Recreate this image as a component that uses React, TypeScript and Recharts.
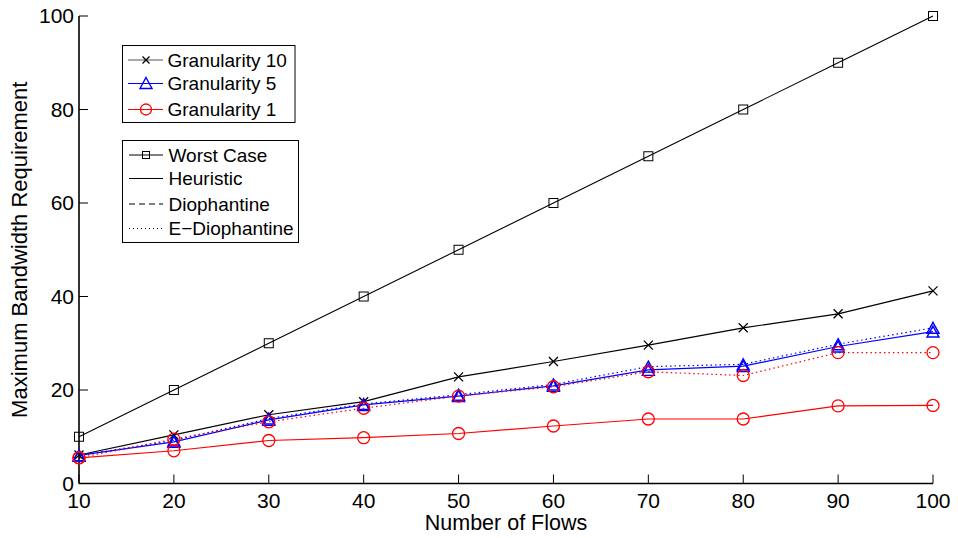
import React from 'react';
import { LineChart, Line, XAxis, YAxis } from 'recharts';

const flows = [10, 20, 30, 40, 50, 60, 70, 80, 90, 100];
const worstCase = [10, 20, 30, 40, 50, 60, 70, 80, 90, 100];
const g10Heuristic = [6.1, 10.4, 14.7, 17.5, 22.8, 26.1, 29.6, 33.3, 36.3, 41.2];
const g5Heuristic = [6.0, 8.9, 13.6, 16.8, 18.7, 20.9, 24.3, 25.1, 29.3, 32.5];
const g5EDiophantine = [6.0, 9.2, 13.9, 17.0, 19.0, 21.2, 25.0, 25.5, 29.8, 33.3];
const g1Heuristic = [5.5, 7.0, 9.2, 9.8, 10.7, 12.3, 13.8, 13.8, 16.6, 16.7];
const g1EDiophantine = [5.5, 9.5, 13.2, 16.1, 18.7, 20.7, 23.9, 23.1, 28.0, 28.0];
const xTicks = [10, 20, 30, 40, 50, 60, 70, 80, 90, 100];
const yTicks = [0, 20, 40, 60, 80, 100];

const data = flows.map((x, i) => ({
  x,
  worst: worstCase[i],
  g10h: g10Heuristic[i],
  g5h: g5Heuristic[i],
  g5e: g5EDiophantine[i],
  g1h: g1Heuristic[i],
  g1e: g1EDiophantine[i],
}));

const BLUE = '#0000ff';
const RED = '#ff0000';
const FONT = '"Liberation Sans", Arial, Helvetica, sans-serif';

const SquareM = ({ cx, cy, s = 9, color = '#000' }: any) => (
  <rect x={cx - s / 2} y={cy - s / 2} width={s} height={s} fill="none" stroke={color} strokeWidth={1} />
);
const CrossM = ({ cx, cy, s = 9, color = '#000' }: any) => (
  <path
    d={`M${cx - s / 2},${cy - s / 2}L${cx + s / 2},${cy + s / 2}M${cx - s / 2},${cy + s / 2}L${cx + s / 2},${cy - s / 2}`}
    stroke={color}
    strokeWidth={1.3}
    fill="none"
  />
);
const TriM = ({ cx, cy, w = 12, h = 11, color = BLUE }: any) => (
  <path
    d={`M${cx},${cy - h / 2}L${cx + w / 2},${cy + h / 2}L${cx - w / 2},${cy + h / 2}Z`}
    fill="none"
    stroke={color}
    strokeWidth={1.4}
  />
);
const CircM = ({ cx, cy, r = 6, color = RED }: any) => (
  <circle cx={cx} cy={cy} r={r} fill="none" stroke={color} strokeWidth={1.3} />
);

const mkDot = (Comp: any, color: string) => (p: any) => (
  <g key={`dot-${p.dataKey}-${p.index}`}>
    <Comp cx={p.cx} cy={p.cy} color={color} />
  </g>
);

const LegendOverlay = () => (
  <svg
    width={958}
    height={538}
    style={{ position: 'absolute', left: 0, top: 0, pointerEvents: 'none', fontFamily: FONT }}
  >
    <rect x={122.5} y={45.5} width={172.5} height={77} fill="#fff" stroke="#000" strokeWidth={1} />
    <line x1={128} x2={163} y1={60} y2={60} stroke="#555" strokeWidth={1} />
    <CrossM cx={146} cy={60} s={7} color="#000" />
    <text x={167.5} y={66.5} fontSize={19} fill="#000">Granularity 10</text>
    <line x1={128} x2={163} y1={83.5} y2={83.5} stroke={BLUE} strokeWidth={1} />
    <TriM cx={146} cy={83} w={12} h={11} color={BLUE} />
    <text x={167.5} y={90} fontSize={19} fill="#000">Granularity 5</text>
    <line x1={128} x2={163} y1={109.5} y2={109.5} stroke={RED} strokeWidth={1} />
    <CircM cx={146} cy={109.5} r={5.5} color={RED} />
    <text x={167.5} y={116} fontSize={19} fill="#000">Granularity 1</text>

    <rect x={122.5} y={140.5} width={176} height={102} fill="#fff" stroke="#000" strokeWidth={1} />
    <line x1={129} x2={163} y1={155} y2={155} stroke="#000" strokeWidth={1} />
    <SquareM cx={146} cy={155} s={7} color="#000" />
    <text x={168.5} y={161.5} fontSize={19} fill="#000">Worst Case</text>
    <line x1={129} x2={163} y1={178.5} y2={178.5} stroke="#000" strokeWidth={1} />
    <text x={168.5} y={185} fontSize={19} fill="#000">Heuristic</text>
    <line x1={129} x2={163} y1={204} y2={204} stroke="#000" strokeWidth={1} strokeDasharray="6 4" />
    <text x={168.5} y={210.5} fontSize={19} fill="#000">Diophantine</text>
    <line x1={129} x2={163} y1={228.5} y2={228.5} stroke="#000" strokeWidth={1} strokeDasharray="1 3" />
    <text x={168.5} y={235} fontSize={19} fill="#000">E−Diophantine</text>
  </svg>
);

export default function App() {
  const axisLine = { stroke: '#000', strokeWidth: 1.6 };
  const tickLine = { stroke: '#000', strokeWidth: 1 };
  const tickStyle = { fontSize: 21, fill: '#000', fontFamily: FONT };
  return (
    <div style={{ position: 'absolute', left: 0, top: 0, width: 958, height: 538, background: '#fff', fontFamily: FONT }}>
      <LineChart
        width={958}
        height={538}
        data={data}
        margin={{ top: 16, right: 25, bottom: 0, left: 0 }}
      >
        <XAxis
          dataKey="x"
          type="number"
          domain={[10, 100]}
          ticks={xTicks}
          height={54.5}
          tickSize={-9}
          tickMargin={18.5}
          axisLine={axisLine}
          tickLine={tickLine}
          tick={tickStyle}
          label={{ value: 'Number of Flows', position: 'insideBottom', offset: 8.5, fontSize: 21.5, fill: '#000' }}
        />
        <XAxis
          xAxisId="top"
          dataKey="x"
          type="number"
          orientation="top"
          domain={[10, 100]}
          ticks={xTicks}
          height={0}
          tickSize={-9}
          axisLine={axisLine}
          tickLine={tickLine}
          tick={false}
        />
        <YAxis
          type="number"
          domain={[0, 100]}
          ticks={yTicks}
          width={79}
          tickSize={-9}
          tickMargin={14}
          axisLine={axisLine}
          tickLine={tickLine}
          tick={tickStyle}
          label={{
            value: 'Maximum Bandwidth Requirement',
            angle: -90,
            position: 'insideLeft',
            offset: 19,
            fontSize: 22,
            fill: '#000',
            style: { textAnchor: 'middle' },
          }}
        />
        <YAxis
          yAxisId="right"
          type="number"
          orientation="right"
          domain={[0, 100]}
          ticks={yTicks}
          width={0}
          tickSize={-9}
          axisLine={axisLine}
          tickLine={tickLine}
          tick={false}
        />
        <Line dataKey="worst" stroke="#000" strokeWidth={1.1} dot={mkDot(SquareM, '#000')} isAnimationActive={false} />
        <Line dataKey="g10h" stroke="#000" strokeWidth={1.2} dot={mkDot(CrossM, '#000')} isAnimationActive={false} />
        <Line dataKey="g5h" stroke={BLUE} strokeWidth={1.2} dot={mkDot(TriM, BLUE)} isAnimationActive={false} />
        <Line
          dataKey="g5e"
          stroke={BLUE}
          strokeWidth={1.2}
          strokeDasharray="1.5 3"
          dot={mkDot(TriM, BLUE)}
          isAnimationActive={false}
        />
        <Line dataKey="g1h" stroke={RED} strokeWidth={1.2} dot={mkDot(CircM, RED)} isAnimationActive={false} />
        <Line
          dataKey="g1e"
          stroke={RED}
          strokeWidth={1.2}
          strokeDasharray="1.5 3"
          dot={mkDot(CircM, RED)}
          isAnimationActive={false}
        />
      </LineChart>
      <LegendOverlay />
    </div>
  );
}
